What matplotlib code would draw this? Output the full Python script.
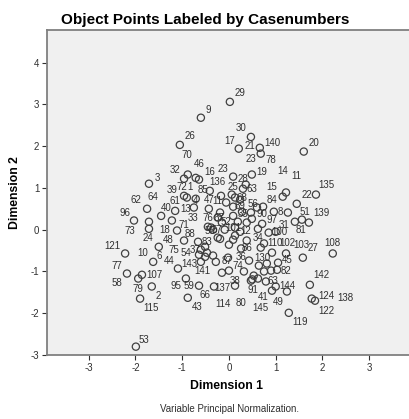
import matplotlib
matplotlib.use("Agg")
import matplotlib.pyplot as plt

plt.rcParams['font.family'] = ['Liberation Sans', 'DejaVu Sans']
plt.rcParams['axes.unicode_minus'] = False

# object points
dim1 = [.02,-.60,-1.05,.47,.21,.66,.68,1.60,-.88,-.96,-.71,-.64,-1.71,.09,.49,.36,.30,1.86,1.22,1.15,
        1.45,.73,.96,1.26,1.41,1.56,1.71,.60,.47,.49,.38,.71,.62,.85,1.00,.13,.09,.38,.75,.68,
        .26,.92,1.22,1.58,2.22,.43,.81,1.05,.64,1.03,.90,.75,.79,1.0,.92,1.24,1.73,1.77,1.84,1.28,
        .47,.50,.53,.62,.13,-.32,-.15,0,.32,-.64,-.92,-.88,-1.09,-1.62,-1.86,-1.94,-1.65,-1.90,-1.99,-2.18,
        -2.22,-2.03,-1.75,-1.71,-1.71,-1.45,-1.22,-1.15,-1.11,-.96,-1.50,-.96,-.90,-.75,-.71,-.41,-.43,-.17,.06,.13,
        -.19,.09,.09,-.24,-.15,-.45,-.38,-.34,-.09,.13,-.66,-.24,-.19,-.60,-.51,-.47,-.64,-.34,-.02,-.28,
        -.60,-.51,.24,-.06,.28,.19,0,.24]
dim2 = [3.06,2.68,2.03,2.22,1.94,1.96,1.82,1.87,1.32,1.22,1.24,1.20,1.10,1.27,1.32,1.08,.98,.84,.89,.79,
        .62,.55,.43,.41,.19,.24,.17,.53,.41,.26,.17,.14,.02,-.07,-.05,-.14,-.24,-.26,-.33,-.43,
        -.45,-.55,-.57,-.67,-.57,-.74,-.81,-.79,-.86,-.96,-.98,-1.0,-1.24,-1.36,-1.46,-1.48,-1.32,-1.65,-1.70,-1.99,
        -1.22,-1.19,-1.10,-1.17,-1.34,-1.36,-1.03,-.98,-1.0,-1.34,-1.17,-1.63,-.93,-.77,-1.08,-1.17,-1.36,-1.65,-2.80,-1.05,
        -.57,.22,.50,.19,.02,.33,.22,.45,-.02,-.26,-.41,.81,.77,.53,.74,.93,.50,.81,.84,.77,
        .41,.55,.33,.29,.17,.07,.05,0,0,.05,-.29,-.19,-.22,-.48,-.41,-.55,-.60,-.62,-.67,-.77,
        -.77,-.65,.72,.65,.43,.19,-.36,-.05]

# case number labels and where they sit
cases = ['29','9','26','30','17','21','140','23','78','20','70','46','32','16','23','136','3','19','14','11',
         '28','25','63','15','135','22','84','8','51','139','97','31','100','81','12','34','110','102','103','27',
         '108','130','45','82','142','124','138','122','119','144','49','41','145','91','63','53','121','96','62','64',
         '73','77','58','10','6','44','143','141','107','79','2','115','95','59','66','43','137','38','114','80',
         '87','74','36','39','72','1','85','61','40','13','4','47','11','33','76','67','71','18','88','55',
         '24','48','75','54','37','83','35','90','89','68','56','101','52','57','86']
lab_x = [.24,-.45,-.83,.26,.02,.45,.92,.47,.90,1.82,-.90,-.64,-1.15,-.41,-.13,-.24,-1.54,.71,1.15,1.43,
         .30,.09,.49,.92,2.09,1.67,.92,1.09,1.62,1.97,.92,1.18,1.07,1.54,.36,.62,.98,1.24,1.54,1.79,
         2.22,.71,1.24,1.22,1.97,2.09,2.48,2.09,1.52,1.26,1.05,.73,.68,.51,.94,-1.82,-2.50,-2.22,-1.99,-1.62,
         -2.12,-2.39,-2.39,-1.84,-1.50,-1.28,-.85,-.56,-1.60,-1.94,-1.52,-1.67,-1.13,-.85,-.51,-.68,-.15,.13,-.13,.26,
         -.04,.19,.26,-1.22,-1.0,-.83,-.56,-1.15,-1.35,-.92,-.71,-.43,-.24,-.77,-.45,-.21,-.96,-1.37,-.83,-.41,
         -1.73,-1.30,-1.18,-.92,-.73,-.47,.30,.71,.24,.28,.51,.09,-.06,-.26,.38]
lab_y = [3.28,2.87,2.25,2.44,2.13,2.01,2.08,1.70,1.67,2.08,1.79,1.58,1.44,1.39,1.46,1.15,1.24,1.39,1.41,1.29,
         1.22,1.03,.98,1.03,1.08,.84,.72,.43,.43,.41,.22,.12,-.05,0,-.02,-.19,-.33,-.31,-.36,-.43,
         -.31,-.67,-.72,-1.0,-1.08,-1.58,-1.63,-1.94,-2.20,-1.36,-1.72,-1.60,-1.87,-1.44,-1.22,-2.63,-.38,.41,.72,.79,
         -.02,-.86,-1.27,-.57,-.62,-.74,-.81,-1.0,-1.08,-1.41,-1.58,-1.87,-1.36,-1.34,-1.56,-1.84,-1.39,-1.22,-1.77,-1.75,
         -.74,-.86,-.65,.96,1.03,1.03,.96,.69,.53,.50,.69,.72,.69,.29,.29,.29,.12,0,-.10,-.02,
         -.19,-.24,-.48,-.55,-.48,-.29,.38,.38,.57,.77,.62,.05,.19,0,-.45]

xticks = [-3,-2,-1,0,1,2,3]
yticks = [-3,-2,-1,0,1,2,3,4]

fig = plt.figure(figsize=(4.09,4.19),dpi=100)
ax = fig.add_axes([47/409,1-355/419,362/409,325/419])
ax.set_facecolor('#f0f0f0')
ax.scatter(dim1,dim2,s=27,facecolors='none',edgecolors='#404040',linewidths=0.9,zorder=2)
for c,x,y in zip(cases,lab_x,lab_y):
    ax.text(x,y,c,fontsize=7,color='#303030',ha='center',va='center',zorder=3)

ax.set_xlim(-3.89,3.85)
ax.set_ylim(-3.0,4.78)
ax.set_xticks(xticks)
ax.set_yticks(yticks)
ax.tick_params(labelsize=7,length=3.6,width=0.8,pad=2,colors='#303030')
ax.spines['right'].set_visible(False)
for s in ['left','bottom','top']:
    ax.spines[s].set_color('#808080')
    ax.spines[s].set_linewidth(1.3)

fig.text(205.5/409,1-20/419,'Object Points Labeled by Casenumbers',fontsize=11,fontweight='bold',ha='center',va='center')
fig.text(226/409,1-386/419,'Dimension 1',fontsize=8.8,fontweight='bold',ha='center',va='center')
fig.text(15/409,1-193/419,'Dimension 2',fontsize=8.8,fontweight='bold',rotation=90,ha='center',va='center')
fig.text(229/409,1-409/419,'Variable Principal Normalization.',fontsize=7,color='#303030',ha='center',va='center')

fig.savefig('out.png',dpi=100)
